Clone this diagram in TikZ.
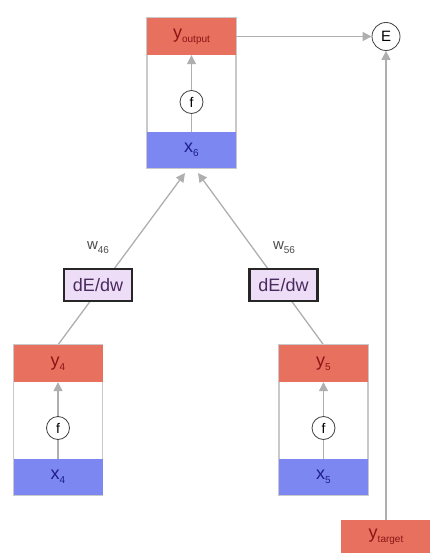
\documentclass[tikz,border=0pt]{standalone}
\usepackage{fontspec}
\setmainfont{Liberation Sans}
\usetikzlibrary{arrows.meta,backgrounds}
\definecolor{bandred}{HTML}{E8705F}
\definecolor{bandblue}{HTML}{7D87F2}
\definecolor{darkred}{HTML}{8A1515}
\definecolor{darkblue}{HTML}{1E1E8A}
\definecolor{linegray}{HTML}{AFAFAF}
\definecolor{framegray}{HTML}{C9C9C9}
\definecolor{lavender}{HTML}{EEDDF7}
\definecolor{textpurple}{HTML}{4A2A5E}
\newcommand{\lbl}[2]{#1\raisebox{-4pt}{\fontsize{10}{11}\selectfont #2}}
\begin{document}
\begin{tikzpicture}[x=1pt,y=-1pt,
  frame/.style={draw=framegray, line width=1.3pt, fill=white, minimum width=89pt, minimum height=150pt, inner sep=0pt},
  yband/.style={fill=bandred, minimum width=89pt, minimum height=37pt, inner sep=0pt, text=darkred, font=\fontsize{18}{20}\selectfont},
  xband/.style={fill=bandblue, minimum width=89pt, minimum height=36pt, inner sep=0pt, text=darkblue, font=\fontsize{18}{20}\selectfont},
  fcirc/.style={circle, draw=black!75, line width=0.8pt, fill=white, minimum size=23pt, inner sep=0pt, font=\fontsize{14}{16}\selectfont},
  conn/.style={draw=linegray, line width=1.3pt},
  arr/.style={conn, -{Triangle[length=9pt,width=9pt]}, color=linegray},
  grad/.style={draw=black!85, line width=2.2pt, fill=lavender, text=textpurple, minimum width=68pt, minimum height=32pt, inner sep=0pt, font=\fontsize{18}{20}\selectfont},
  wlab/.style={text=black!70, font=\fontsize{15}{17}\selectfont, inner sep=0pt}
]
\useasboundingbox (0,0) rectangle (430,553);

% top block
\node[frame] (b6) at (191.5,93) {};
\node[yband] (y6) at (191.5,36.5) {\lbl{y}{output}};
\node[xband] (x6) at (191.5,150) {\lbl{x}{6}};
\node[fcirc] (f6) at (191.5,102) {f};
\draw[conn] (x6.north) -- (f6.south);
\draw[arr] (f6.north) -- (y6.south);

% block 4
\node[frame] (b4) at (58,420) {};
\node[yband] (y4) at (58,363.5) {\lbl{y}{4}};
\node[xband] (x4) at (58,477) {\lbl{x}{4}};
\node[fcirc] (f4) at (58,428) {f};
\draw[conn] (x4.north) -- (f4.south);
\draw[arr] (f4.north) -- (y4.south);

% block 5
\node[frame] (b5) at (323.5,420) {};
\node[yband] (y5) at (323.5,363.5) {\lbl{y}{5}};
\node[xband] (x5) at (323.5,477) {\lbl{x}{5}};
\node[fcirc] (f5) at (323.5,428) {f};
\draw[conn] (x5.north) -- (f5.south);
\draw[arr] (f5.north) -- (y5.south);

% error node and target
\node[circle, draw=black!75, line width=0.8pt, fill=white, minimum size=28pt, inner sep=0pt, font=\fontsize{15}{17}\selectfont] (E) at (386,36.5) {E};
\node[yband, minimum width=90pt, minimum height=34pt] (yt) at (386,537) {\lbl{y}{target}};

% gradient boxes
\node[grad] (g46) at (98,285) {dE/dw};
\node[grad] (g56) at (283.5,285) {dE/dw};
\node[wlab] (w46) at (98,248) {\lbl{w}{46}};
\node[wlab] (w56) at (284,248) {\lbl{w}{56}};

\coordinate (inL) at (185,173);
\coordinate (inR) at (198,173);

\begin{scope}[on background layer]
\draw[arr] (y4.north) -- (inL);
\draw[arr] (y5.north) -- (inR);
\end{scope}
\draw[arr] (y6.east) -- (E.west);
\draw[arr] (yt.north) -- (E.south);
\end{tikzpicture}
\end{document}
